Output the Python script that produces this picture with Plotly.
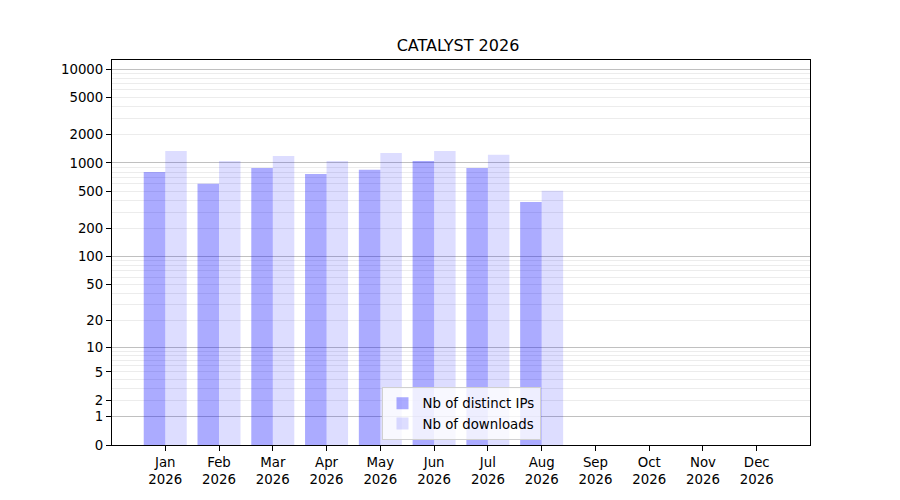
import numpy as np
import plotly.graph_objects as go

months = ["Jan", "Feb", "Mar", "Apr", "May", "Jun", "Jul", "Aug", "Sep", "Oct", "Nov", "Dec"]
year = "2026"
distinct_ips = [800, 600, 885, 765, 845, 1050, 885, 385, 0, 0, 0, 0]
downloads = [1340, 1050, 1190, 1050, 1280, 1340, 1220, 505, 0, 0, 0, 0]

y_ticks = [0, 1, 2, 5, 10, 20, 50, 100, 200, 500, 1000, 2000, 5000, 10000]
decades = [1, 10, 100, 1000, 10000]


def fwd(v):
    # same as the log(1+x) function scale of the original
    return np.log10(1 + np.asarray(v, dtype=float))


minor_vals = [m * d for d in decades[:-1] for m in range(2, 10) if m * d not in y_ticks]
xpos = list(range(len(months)))
font = "DejaVu Sans"

fig = go.Figure()
fig.add_trace(go.Bar(
    x=xpos, y=fwd(distinct_ips), name="Nb of distinct IPs",
    marker=dict(color="rgba(0,0,255,0.33)", line=dict(width=0)),
    customdata=distinct_ips, hovertemplate="%{customdata}<extra></extra>",
))
fig.add_trace(go.Bar(
    x=xpos, y=fwd(downloads), name="Nb of downloads",
    marker=dict(color="rgba(0,0,255,0.135)", line=dict(width=0)),
    customdata=downloads, hovertemplate="%{customdata}<extra></extra>",
))
# invisible trace to carry the darker decade grid
fig.add_trace(go.Scatter(x=[0], y=[0], yaxis="y2", mode="markers",
                         marker=dict(opacity=0), showlegend=False, hoverinfo="skip"))

# page has a default 8px body margin, so margins are pulled in to compensate
yr = [0, 4.096]
fig.update_layout(
    width=900, height=500,
    margin=dict(l=104, r=98, t=52, b=63),
    paper_bgcolor="white", plot_bgcolor="white",
    font=dict(family=font, size=13.33, color="black"),
    title=dict(text="CATALYST 2026", x=0.5, xanchor="center", y=0.914, yanchor="bottom",
               font=dict(size=16, family=font)),
    barmode="group", bargap=0.2, bargroupgap=0,
    xaxis=dict(
        range=[-0.99, 11.99], tickmode="array", tickvals=xpos,
        ticktext=[f"{m}<br>{year}" for m in months],
        ticks="outside", ticklen=5, tickcolor="black", showgrid=False, zeroline=False,
        showline=True, linecolor="black", linewidth=1, mirror=True,
    ),
    yaxis=dict(
        range=yr, tickmode="array", tickvals=fwd(y_ticks).tolist(),
        ticktext=[str(v) for v in y_ticks],
        ticks="outside", ticklen=5, tickcolor="black",
        showgrid=True, gridcolor="#ececec", gridwidth=1, zeroline=False,
        showline=True, linecolor="black", linewidth=1, mirror=True,
        minor=dict(tickmode="array", tickvals=fwd(minor_vals).tolist(), showgrid=True,
                   gridcolor="#ececec", gridwidth=1, ticks=""),
    ),
    yaxis2=dict(
        range=yr, overlaying="y", side="left", tickmode="array",
        tickvals=fwd(decades).tolist(), showticklabels=False, ticks="",
        showgrid=True, gridcolor="#c0c0c0", gridwidth=1, zeroline=False, showline=False,
    ),
    legend=dict(
        x=0.5, xanchor="center", y=0.013, yanchor="bottom",
        bgcolor="rgba(255,255,255,0.8)", bordercolor="#d0d0d0", borderwidth=1,
        font=dict(size=13.33, family=font), tracegroupgap=2,
    ),
    showlegend=True,
)

fig.write_html("out.html")
